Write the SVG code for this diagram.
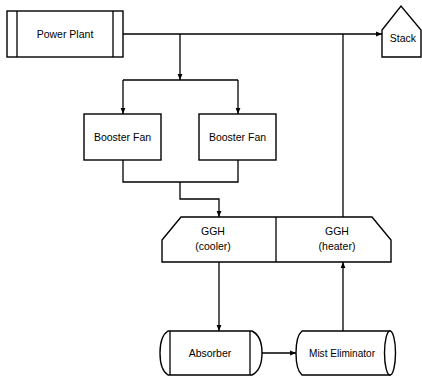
<svg xmlns="http://www.w3.org/2000/svg" width="422" height="378" viewBox="0 0 422 378">
<defs>
<marker id="ah" viewBox="0 0 10 10" refX="10" refY="5" markerWidth="6" markerHeight="6" orient="auto" markerUnits="userSpaceOnUse">
<path d="M0,1 L10,5 L0,9 z" fill="#000"/>
</marker>
</defs>
<style>
.s{fill:#fff;stroke:#000;stroke-width:1.4}
.l{fill:none;stroke:#000;stroke-width:1.3}
.t{font-family:"Liberation Sans",Arial,sans-serif;font-size:10.5px;fill:#000;text-anchor:middle}
</style>
<rect width="422" height="378" fill="#fff"/>
<g id="connectors">
<path class="l" d="M123,34 H344"/>
<path class="l" d="M344,34 H382" marker-end="url(#ah)"/>
<path class="l" d="M180,34 V80" marker-end="url(#ah)"/>
<path class="l" d="M123,80 H238"/>
<path class="l" d="M123,80 V114" marker-end="url(#ah)"/>
<path class="l" d="M238,80 V114" marker-end="url(#ah)"/>
<path class="l" d="M123,160 V182 H238 V160"/>
<path class="l" d="M180,182 V199 H219 V217" marker-end="url(#ah)"/>
<path class="l" d="M219,262 V331" marker-end="url(#ah)"/>
<path class="l" d="M258,353 H296" marker-end="url(#ah)"/>
<path class="l" d="M343,331 V262" marker-end="url(#ah)"/>
<path class="l" d="M343,217 V34"/>
</g>
<g id="power-plant">
<rect class="s" x="7" y="11" width="116" height="46"/>
<path class="l" d="M17,11 V57 M113,11 V57"/>
<text class="t" x="65" y="37.5">Power Plant</text>
</g>
<g id="booster-fan-1">
<rect class="s" x="84" y="114" width="77" height="46"/>
<text class="t" x="122.5" y="140.5">Booster Fan</text>
</g>
<g id="booster-fan-2">
<rect class="s" x="199" y="114" width="77" height="46"/>
<text class="t" x="237.5" y="140.5">Booster Fan</text>
</g>
<g id="ggh">
<path class="s" d="M181,217 H372 L391,240 V262 H162 V240 Z"/>
<path class="l" d="M276,217 V262"/>
<text class="t" x="213" y="235">GGH</text>
<text class="t" x="213" y="250">(cooler)</text>
<text class="t" x="337" y="235">GGH</text>
<text class="t" x="337" y="250">(heater)</text>
</g>
<g id="absorber">
<path class="s" d="M168,331 H252 Q262,336 262,353 Q262,370 252,375 H168 Q160,370 160,353 Q160,336 168,331 Z"/>
<path class="l" d="M170,331 V375 M250,331 V375"/>
<text class="t" x="210" y="356.5">Absorber</text>
</g>
<g id="mist-eliminator">
<path class="s" d="M302,331 H390 V375 H302 Q296,370 296,353 Q296,336 302,331 Z"/>
<ellipse class="s" cx="390" cy="353" rx="5.5" ry="22"/>
<text class="t" x="342" y="356.5" textLength="66" lengthAdjust="spacingAndGlyphs">Mist Eliminator</text>
</g>
<g id="stack">
<path class="s" d="M382,57 V30 L401,6 L421,30 V57 Z"/>
<text class="t" x="403" y="42">Stack</text>
</g>
</svg>
